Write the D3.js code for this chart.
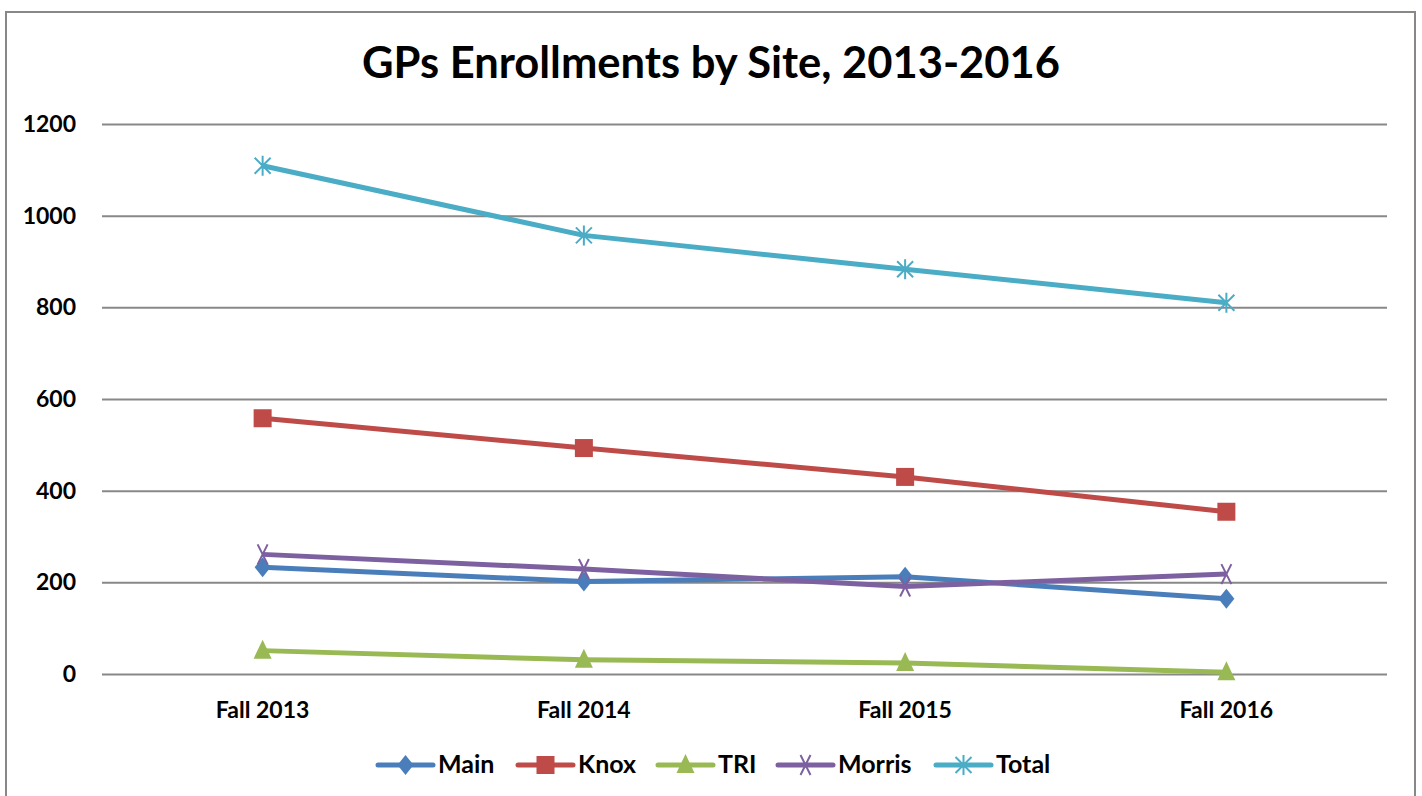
<!DOCTYPE html>
<html><head><meta charset="utf-8">
<script src="https://cdn.jsdelivr.net/npm/d3@7"></script>
<style>body{margin:0;background:#fff}svg{display:block}</style>
</head><body>
<svg id="c" width="1422" height="796"></svg>
<script>
const categories = ["Fall 2013","Fall 2014","Fall 2015","Fall 2016"];
const seriesNames = ["Main","Knox","TRI","Morris","Total"];
const mainVals   = [233, 202, 212, 164];
const knoxVals   = [558, 493, 430, 354];
const triVals    = [51, 31, 24, 4];
const morrisVals = [261, 229, 191, 218];
const totalVals  = [1109, 957, 883, 810];
const yTicks = [0,200,400,600,800,1000,1200];
const colors = ["#4A7EBB","#BE4B48","#98B954","#7D60A0","#4BACC6"];
const markers = ["diamond","square","triangle","x","star"];
const series = [mainVals, knoxVals, triVals, morrisVals, totalVals];

const svg = d3.select("#c");
const font = "Lato, 'Open Sans', sans-serif";
svg.append("rect").attr("x",6).attr("y",12).attr("width",1409).attr("height",800)
  .attr("fill","#fff").attr("stroke","#888").attr("stroke-width",2);

svg.append("text").attr("x",711).attr("y",78).attr("text-anchor","middle")
  .attr("font-family",font).attr("font-weight","bold").attr("font-size",43.5)
  .text("GPs Enrollments by Site, 2013-2016");

const x = d3.scaleBand().domain(categories).range([102,1387]);
const y = d3.scaleLinear().domain([0,1200]).range([674,124]);

const yAxis = svg.append("g").attr("transform","translate(102,0)")
  .call(d3.axisLeft(y).tickValues(yTicks).tickFormat(d3.format("d")).tickSize(-1285).tickPadding(26));
yAxis.select(".domain").remove();
yAxis.selectAll("line").attr("stroke","#888").attr("stroke-width",2);
yAxis.selectAll("text").attr("font-family",font).attr("font-weight","bold").attr("font-size",23).attr("fill","#000");

const xAxis = svg.append("g").attr("transform","translate(0,674)")
  .call(d3.axisBottom(x).tickSize(0));
xAxis.select(".domain").remove();
xAxis.selectAll("text").attr("y",44).attr("dy",0).attr("font-family",font).attr("font-weight","bold").attr("font-size",23).attr("fill","#000");

function drawMarker(g, type, color, cx, cy){
  if(type==="diamond"){
    g.append("path").attr("d",`M${cx},${cy-10}L${cx+8},${cy}L${cx},${cy+10}L${cx-8},${cy}Z`).attr("fill",color);
  } else if(type==="square"){
    g.append("rect").attr("x",cx-9).attr("y",cy-9).attr("width",18).attr("height",18).attr("fill",color);
  } else if(type==="triangle"){
    g.append("path").attr("d",`M${cx},${cy-11}L${cx+9},${cy+8}L${cx-9},${cy+8}Z`).attr("fill",color);
  } else if(type==="x"){
    g.append("path").attr("d",`M${cx-5},${cy-10}L${cx+5},${cy+10}M${cx+5},${cy-10}L${cx-5},${cy+10}`)
      .attr("stroke",color).attr("stroke-width",2).attr("fill","none");
  } else if(type==="star"){
    g.append("path").attr("d",`M${cx-8},${cy-8}L${cx+8},${cy+8}M${cx+8},${cy-8}L${cx-8},${cy+8}M${cx},${cy-10}L${cx},${cy+10}`)
      .attr("stroke",color).attr("stroke-width",2).attr("fill","none");
  }
}

const line = d3.line().x((d,i)=>x(categories[i])+x.bandwidth()/2).y(d=>y(d));
series.forEach((vals,si)=>{
  const g = svg.append("g");
  g.append("path").datum(vals).attr("d",line).attr("fill","none")
    .attr("stroke",colors[si]).attr("stroke-width",5).attr("stroke-linejoin","round");
  vals.forEach((v,i)=>drawMarker(g, markers[si], colors[si], x(categories[i])+x.bandwidth()/2, y(v)));
});

// legend
const legX = [378, 518, 658, 778, 936];
const legY = 765;
seriesNames.forEach((n,i)=>{
  const g = svg.append("g");
  g.append("line").attr("x1",legX[i]).attr("x2",legX[i]+55).attr("y1",legY).attr("y2",legY)
    .attr("stroke",colors[i]).attr("stroke-width",5).attr("stroke-linecap","round");
  drawMarker(g, markers[i], colors[i], legX[i]+27.5, legY);
  g.append("text").attr("x",legX[i]+60).attr("y",legY+8).attr("font-family",font)
    .attr("font-weight","bold").attr("font-size",25).text(n);
});
</script>
</body></html>
